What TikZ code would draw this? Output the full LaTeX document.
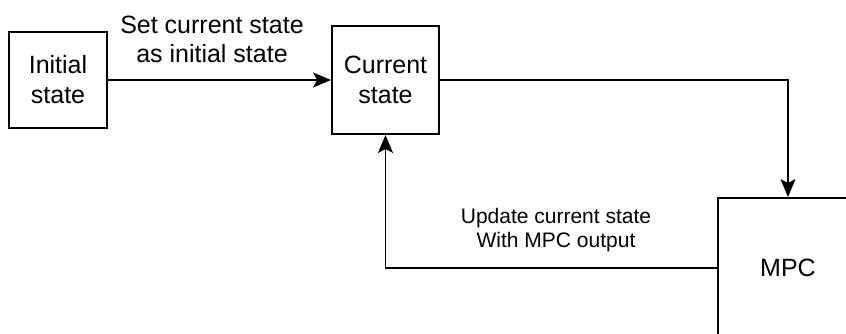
\documentclass[tikz,border=0pt]{standalone}
\usepackage{fontspec}
\setmainfont{Liberation Sans}
\usetikzlibrary{arrows.meta}
\begin{document}
\begin{tikzpicture}[x=1pt,y=-1pt,
  blk/.style={draw=black,line width=1.9pt,rectangle,inner sep=0pt,align=center,
    font=\fontsize{25}{30}\selectfont},
  conn/.style={draw=black,line width=1.9pt,-{Stealth[length=18pt,width=15pt,inset=4pt]}},
  lbl/.style={inner sep=0pt,align=center}]
\useasboundingbox (0,0) rectangle (846,333);
\clip (0,0) rectangle (846,333);
\node[blk,minimum width=98pt,minimum height=96pt] (init) at (58,80) {Initial\\state};
\node[blk,minimum width=107pt,minimum height=108pt] (cur) at (385.5,80) {Current\\state};
\node[blk,minimum width=140pt,minimum height=140pt] (mpc) at (788,268) {MPC};
\node[lbl,font=\fontsize{25}{29}\selectfont] (l1) at (212,39) {Set current state\\as initial state};
\node[lbl,font=\fontsize{21}{24}\selectfont] (l2) at (556,230) {Update current state\\With MPC output};
\draw[conn] (init.east) -- (cur.west);
\draw[conn] (cur.east) -| (mpc.north);
\draw[conn] (mpc.west) -| (cur.south);
\end{tikzpicture}
\end{document}
